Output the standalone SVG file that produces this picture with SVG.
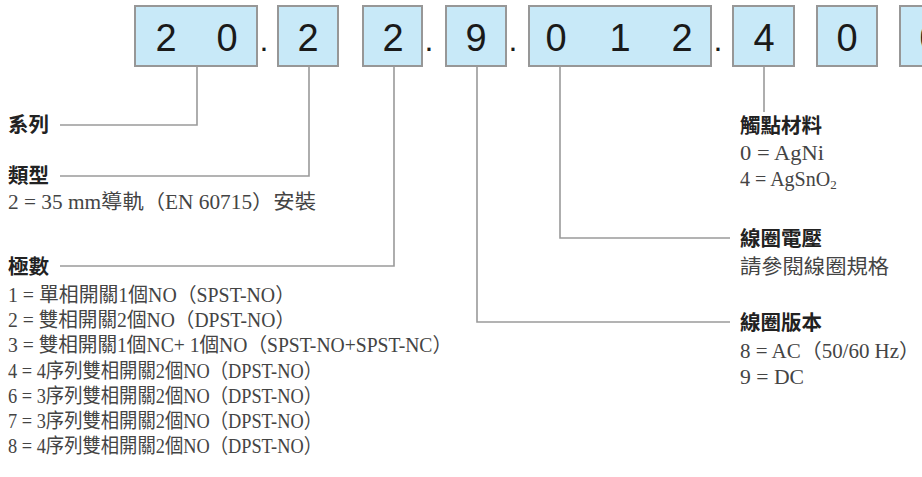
<svg xmlns="http://www.w3.org/2000/svg" width="922" height="477" viewBox="0 0 922 477">
<style>
.box{fill:#c8e9f8;stroke:#979797;stroke-width:2}
.dg{font-family:"Liberation Sans",Arial,sans-serif;font-size:38px;fill:#1a1a1a;text-anchor:middle}
.dot{font-family:"Liberation Sans",Arial,sans-serif;font-size:32px;fill:#1a1a1a;text-anchor:middle}
.cn{fill:none;stroke:#9a9a9a;stroke-width:1.6}
.hd{font-family:"Noto Sans CJK TC","Noto Sans CJK SC",sans-serif;font-size:20.5px;font-weight:bold;fill:#222}
.tx{font-family:"Liberation Serif","Noto Sans CJK TC",serif;font-size:20px;fill:#444}
</style>
<rect width="922" height="477" fill="#ffffff"/>
<g id="code">
<g id="box-series"><rect class="box" x="135" y="6" width="122" height="60"/><text class="dg" x="166" y="51">2</text><text class="dg" x="227" y="51">0</text></g>
<text class="dot" x="264" y="51">.</text>
<g id="box-type"><rect class="box" x="278" y="6" width="60" height="60"/><text class="dg" x="308" y="51">2</text></g>
<g id="box-poles"><rect class="box" x="363" y="6" width="59" height="60"/><text class="dg" x="393" y="51">2</text></g>
<text class="dot" x="429" y="51">.</text>
<g id="box-coiltype"><rect class="box" x="446" y="6" width="60" height="60"/><text class="dg" x="476" y="51">9</text></g>
<text class="dot" x="513" y="51">.</text>
<g id="box-voltage"><rect class="box" x="529" y="6" width="182" height="60"/><text class="dg" x="556" y="51">0</text><text class="dg" x="620" y="51">1</text><text class="dg" x="682" y="51">2</text></g>
<text class="dot" x="718" y="51">.</text>
<g id="box-contact"><rect class="box" x="733" y="6" width="61" height="60"/><text class="dg" x="764" y="51">4</text></g>
<g id="box-7"><rect class="box" x="817" y="6" width="60" height="60"/><text class="dg" x="847" y="51">0</text></g>
<g id="box-8"><rect class="box" x="900" y="6" width="60" height="60"/><text class="dg" x="930" y="51">0</text></g>
</g>
<g id="connectors">
<path class="cn" d="M197,66 V125 H60"/>
<path class="cn" d="M309,66 V176 H60"/>
<path class="cn" d="M394,66 V266 H60"/>
<path class="cn" d="M477,66 V322 H730"/>
<path class="cn" d="M560,66 V238 H730"/>
<path class="cn" d="M764,66 V112"/>
</g>
<g id="series"><text class="hd" x="8" y="132">系列</text></g>
<g id="type"><text class="hd" x="8" y="183">類型</text>
<text class="tx" x="8" y="209" textLength="308" lengthAdjust="spacingAndGlyphs">2 = 35 mm導軌（EN 60715）安裝</text></g>
<g id="poles"><text class="hd" x="8" y="274">極數</text>
<text class="tx" x="8" y="302" textLength="287" lengthAdjust="spacingAndGlyphs">1 = 單相開關1個NO（SPST-NO）</text>
<text class="tx" x="8" y="327" textLength="287" lengthAdjust="spacingAndGlyphs">2 = 雙相開關2個NO（DPST-NO）</text>
<text class="tx" x="8" y="352" textLength="444" lengthAdjust="spacingAndGlyphs">3 = 雙相開關1個NC+ 1個NO（SPST-NO+SPST-NC）</text>
<text class="tx" x="8" y="378" textLength="314" lengthAdjust="spacingAndGlyphs">4 = 4序列雙相開關2個NO（DPST-NO）</text>
<text class="tx" x="8" y="403" textLength="314" lengthAdjust="spacingAndGlyphs">6 = 3序列雙相開關2個NO（DPST-NO）</text>
<text class="tx" x="8" y="428" textLength="314" lengthAdjust="spacingAndGlyphs">7 = 3序列雙相開關2個NO（DPST-NO）</text>
<text class="tx" x="8" y="453" textLength="314" lengthAdjust="spacingAndGlyphs">8 = 4序列雙相開關2個NO（DPST-NO）</text></g>
<g id="contact"><text class="hd" x="740" y="133">觸點材料</text>
<text class="tx" x="740" y="160" textLength="84" lengthAdjust="spacingAndGlyphs">0 = AgNi</text>
<text class="tx" x="740" y="186">4 = AgSnO<tspan font-size="13" dy="3">2</tspan></text></g>
<g id="voltage"><text class="hd" x="740" y="246">線圈電壓</text>
<text class="tx" x="740" y="274" textLength="149" lengthAdjust="spacingAndGlyphs">請參閱線圈規格</text></g>
<g id="coiltype"><text class="hd" x="740" y="330">線圈版本</text>
<text class="tx" x="740" y="358" textLength="180" lengthAdjust="spacingAndGlyphs">8 = AC（50/60 Hz）</text>
<text class="tx" x="740" y="384" textLength="64" lengthAdjust="spacingAndGlyphs">9 = DC</text></g>
</svg>
